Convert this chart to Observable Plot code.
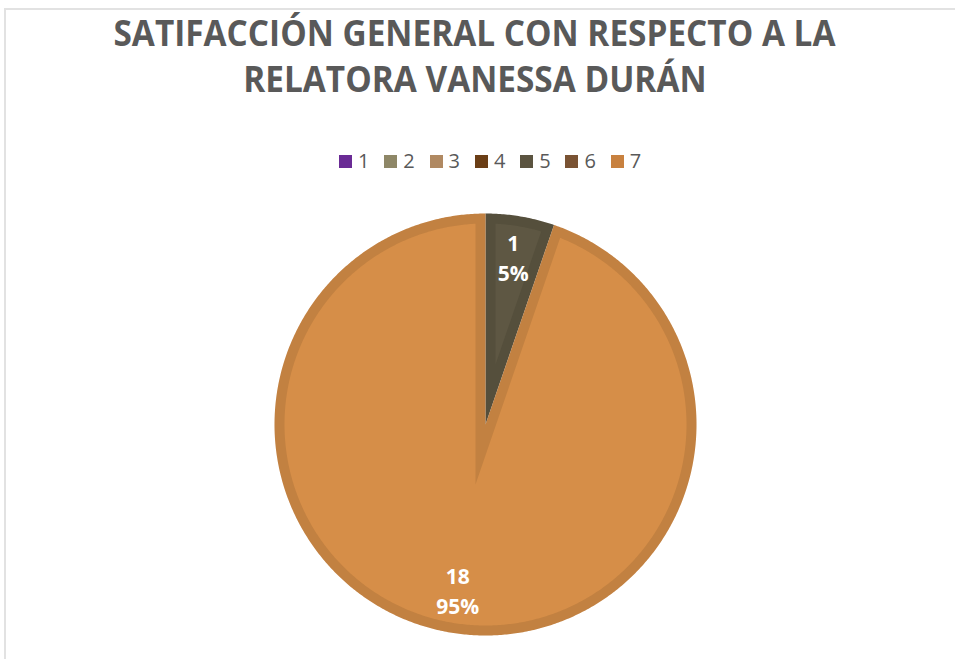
<!DOCTYPE html>
<html><head><meta charset="utf-8">
<script src="https://cdn.jsdelivr.net/npm/d3@7"></script>
<script src="https://cdn.jsdelivr.net/npm/@observablehq/plot@0.6"></script>
<style>
body{margin:0;background:#fff;width:955px;height:659px;overflow:hidden;position:relative;font-family:"Open Sans",sans-serif}
#frame{position:absolute;left:4px;top:8px;right:-10px;bottom:-10px;border-left:2px solid #e2e2e2;border-top:2px solid #e2e2e2}
#title{position:absolute;left:0;top:10px;width:949px;text-align:center;font-weight:700;font-size:36px;line-height:46px;color:#595959}
#title span{display:inline-block;white-space:nowrap;transform-origin:50% 50%}
#legend{position:absolute;top:149px;left:339px;display:flex;font-size:20px;line-height:24px;color:#595959}
.item{width:45.3px;position:relative;padding-left:19px;box-sizing:border-box}
.sw{position:absolute;left:0;top:6px;width:13px;height:13px}
#chart{position:absolute;left:0;top:185px}
</style></head><body>
<div id="frame"></div>
<div id="title"><div><span id="t1"></span></div><div><span id="t2"></span></div></div>
<div id="legend"></div>
<div id="chart"></div>
<script>
const titleLines = ["SATIFACCIÓN GENERAL CON RESPECTO A LA", "RELATORA VANESSA DURÁN"];
const categories = ["1", "2", "3", "4", "5", "6", "7"];
const counts = [0, 0, 0, 0, 1, 0, 18];
const fillColors = ["#7030A0", "#8F8A68", "#B28B64", "#6B3E16", "#5E5743", "#7A5333", "#D68E48"];
const legendColors = ["#6A2B95", "#8E8767", "#B08962", "#6B3E16", "#5B5440", "#7A5333", "#C8813F"];

// Title
const t1 = document.getElementById("t1"), t2 = document.getElementById("t2");
t1.textContent = titleLines[0];
t2.textContent = titleLines[1];
const s = 722 / t1.getBoundingClientRect().width;
t1.style.transform = `scaleX(${s})`;
t2.style.transform = `scaleX(${s})`;

// Legend
const leg = document.getElementById("legend");
categories.forEach((c, i) => {
  const it = document.createElement("div");
  it.className = "item";
  const sw = document.createElement("span");
  sw.className = "sw";
  sw.style.background = legendColors[i];
  it.appendChild(sw);
  it.appendChild(document.createTextNode(c));
  leg.appendChild(it);
});

// Pie geometry from data
const rows = categories.map((c, i) => ({cat: c, count: counts[i]}));
const total = d3.sum(counts);
const arcs = d3.pie().sort(null).value(d => d.count)(rows).filter(a => a.value > 0);
const border = 10 / 211;

function wedge(a0, a1, r, w) {
  const h = (a1 - a0) / 2, mid = (a0 + a1) / 2;
  const pts = [];
  const d = w > 0 ? w / Math.sin(h) : 0;
  pts.push([d * Math.sin(mid), d * Math.cos(mid)]);
  const rr = r - w;
  const da = w > 0 ? Math.asin(w / rr) : 0;
  const b0 = a0 + da, b1 = a1 - da;
  const n = Math.max(2, Math.ceil((b1 - b0) / (Math.PI / 360)));
  for (let k = 0; k <= n; k++) {
    const a = b0 + (b1 - b0) * k / n;
    pts.push([rr * Math.sin(a), rr * Math.cos(a)]);
  }
  return pts;
}
const outer = [], inner = [], labels = [];
arcs.forEach(a => {
  wedge(a.startAngle, a.endAngle, 1, 0).forEach(p => outer.push({cat: a.data.cat, x: p[0], y: p[1]}));
  wedge(a.startAngle, a.endAngle, 1, border).forEach(p => inner.push({cat: a.data.cat, x: p[0], y: p[1]}));
  const mid = (a.startAngle + a.endAngle) / 2;
  labels.push({
    x: 0.8 * Math.sin(mid), y: 0.8 * Math.cos(mid),
    text: `${a.value}\n${Math.round(a.value / total * 100)}%`
  });
});

const chart = Plot.plot({
  width: 955, height: 470,
  marginLeft: 274, marginRight: 259, marginTop: 28, marginBottom: 20,
  x: {domain: [-1, 1], axis: null},
  y: {domain: [-1, 1], axis: null},
  color: {domain: categories, range: fillColors},
  style: {background: "transparent"},
  marks: [
    Plot.line(outer, {x: "x", y: "y", z: "cat", fill: "cat", stroke: "none", curve: "linear-closed"}),
    Plot.line(outer, {x: "x", y: "y", z: "cat", fill: "black", fillOpacity: 0.09, stroke: "none", curve: "linear-closed"}),
    Plot.line(inner, {x: "x", y: "y", z: "cat", fill: "cat", stroke: "none", curve: "linear-closed"}),
    Plot.text(labels, {x: "x", y: "y", dy: -2, text: "text", fill: "white", fontWeight: "bold", fontSize: 21, lineHeight: 1.45, fontFamily: "Open Sans"})
  ]
});
document.getElementById("chart").appendChild(chart);
</script>
</body></html>
